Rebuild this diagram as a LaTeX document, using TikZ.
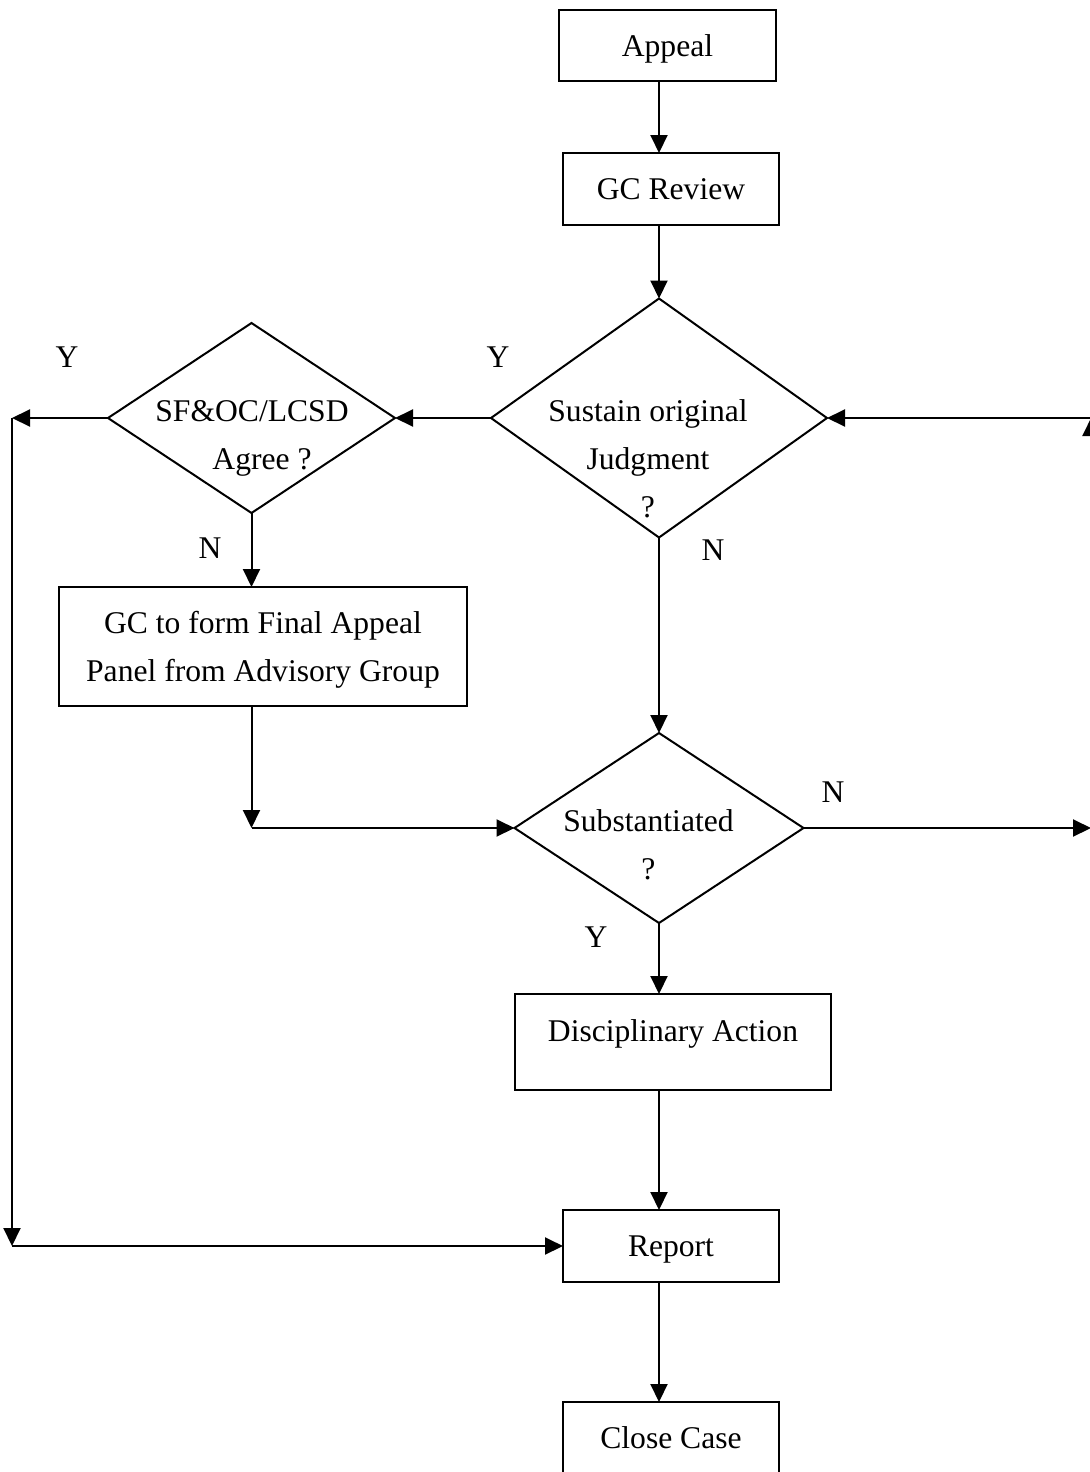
\documentclass[tikz,border=0pt]{standalone}
\usepackage{fontspec}
\setmainfont{Liberation Serif}
\usetikzlibrary{shapes.geometric,arrows.meta}
\begin{document}
\begin{tikzpicture}[x=0.5pt,y=-0.5pt,line width=1pt,
  font=\fontsize{15.8}{24}\selectfont,
  box/.style={draw,rectangle,inner sep=0pt,outer sep=0pt,text depth=0pt},
  decision/.style={draw,diamond,inner sep=0pt,outer sep=0pt},
  words/.style={inner sep=0pt,align=center},
  arr/.style={-{Triangle[length=9pt,width=8.5pt]}}]
 \useasboundingbox (0,0) rectangle (1089,1472);
 \coordinate (col) at (659,0);
 \node[box,minimum width=108.5pt,minimum height=35.5pt] (appeal) at (667.5,45.5) {Appeal};
 \node[box,minimum width=108pt,minimum height=36pt] (review) at (671,189) {GC Review};
 \node[decision,minimum width=168pt,minimum height=119.5pt] (sustain) at (659,418) {};
 \node[words] (sustaintext) at (648,459) {Sustain original\\Judgment\\?};
 \node[decision,minimum width=143.5pt,minimum height=95pt] (agree) at (251.5,418) {};
 \node[words] (agreetext) at (252,438) {SF\&OC/LCSD\\\hspace*{10pt}Agree ?};
 \node[box,minimum width=204pt,minimum height=59.5pt,align=center] (panel) at (263,646.5) {GC to form Final Appeal\\Panel from Advisory Group};
 \node[decision,minimum width=144.5pt,minimum height=95pt] (subst) at (659,828) {};
 \node[words] (substtext) at (648.5,845) {Substantiated\\?};
 \node[box,minimum width=158pt,text height=23.5pt,text depth=24.5pt] (action) at (673,1042) {Disciplinary Action};
 \node[box,minimum width=108pt,minimum height=36pt] (report) at (671,1246) {Report};
 \node[box,minimum width=108pt,minimum height=36pt] (close) at (671,1438) {Close Case};
 \node[words] (ya) at (67,357) {Y};
 \node[words] (ys) at (498,357) {Y};
 \node[words] (na) at (210,548) {N};
 \node[words] (ns) at (713,550) {N};
 \node[words] (nb) at (833,792) {N};
 \node[words] (yb) at (596,937) {Y};
 \coordinate (bend) at (251.5,828);
 \coordinate (lefttop) at (12,418);
 \coordinate (leftbot) at (12,1246);
 \coordinate (righttop) at (1091,418);
 \coordinate (rightbot) at (1091,828);
 \draw[arr] (appeal.south -| col) -- (review.north -| col);
 \draw[arr] (review.south -| col) -- (sustain.north);
 \draw[arr] (sustain.west) -- (agree.east);
 \draw[arr] (sustain.south) -- (subst.north);
 \draw[arr] (agree.south) -- (panel.north -| agree.south);
 \draw[arr] (panel.south -| bend) -- (bend);
 \draw[arr] (bend) -- (subst.west);
 \draw[arr] (subst.south) -- (action.north -| subst.south);
 \draw[arr] (action.south -| col) -- (report.north -| col);
 \draw[arr] (report.south -| col) -- (close.north -| col);
 \draw[arr] (agree.west) -- (lefttop);
 \draw[arr] (lefttop) -- (leftbot);
 \draw[arr] (leftbot) -- (report.west);
 \draw[arr] (subst.east) -- (rightbot);
 \draw[arr] (rightbot) -- (righttop);
 \draw[arr] (righttop) -- (sustain.east);
\end{tikzpicture}
\end{document}
